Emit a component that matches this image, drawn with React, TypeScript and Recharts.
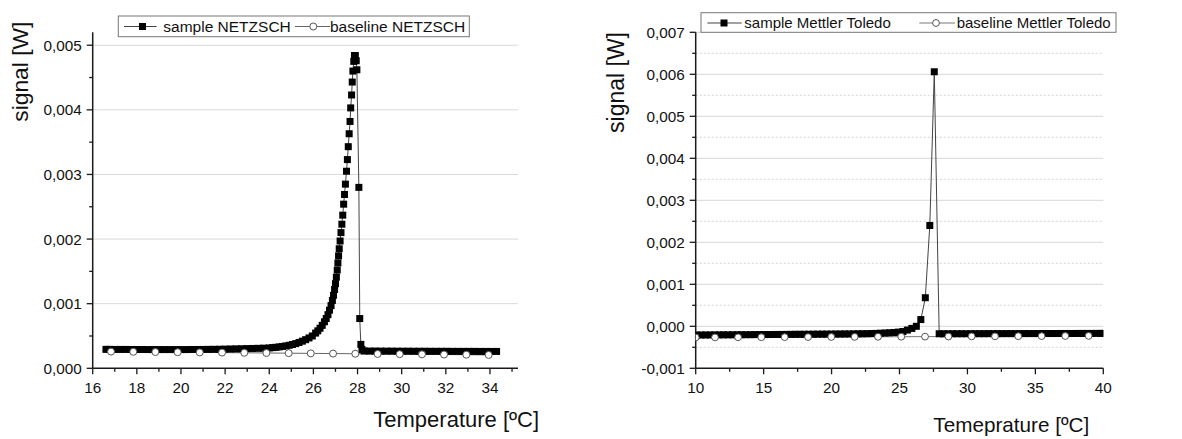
import React from 'react'
import { LineChart, Line, XAxis, YAxis, CartesianGrid } from 'recharts'

const FONT = '"Liberation Sans", Arial, Helvetica, sans-serif'

// ---- NETZSCH (left panel) ----
// [temperature ºC, signal W]
const netzschSampleStart: [number, number][] = [
  [16.6, 0.000293], [16.75, 0.000293], [17.0, 0.000292], [17.25, 0.000292], [17.5, 0.000292],
  [17.75, 0.000291], [18.0, 0.000291], [18.25, 0.000291], [18.5, 0.00029], [18.75, 0.00029],
  [19.0, 0.00029], [19.25, 0.00029], [19.5, 0.00029], [19.75, 0.00029], [20.0, 0.00029],
  [20.25, 0.00029], [20.5, 0.000291], [20.75, 0.000291], [21.0, 0.000292], [21.25, 0.000293],
  [21.5, 0.000294], [21.75, 0.000295], [22.0, 0.000297], [22.25, 0.000299], [22.5, 0.000301],
  [22.75, 0.000303], [23.0, 0.000305], [23.25, 0.000307], [23.5, 0.000309], [23.75, 0.000312],
  [24.0, 0.000315],
]

const netzschSamplePeak: [number, number][] = [
  [24.15, 0.00032], [24.3, 0.000325], [24.45, 0.000331], [24.6, 0.000338], [24.75, 0.000346],
  [24.9, 0.000356], [25.05, 0.000368], [25.2, 0.000382], [25.35, 0.0004], [25.5, 0.00042],
  [25.65, 0.000443], [25.8, 0.00047], [25.95, 0.0005], [26.1, 0.000545], [26.2, 0.00058],
  [26.3, 0.00062], [26.4, 0.000665], [26.5, 0.00072], [26.58, 0.00077], [26.66, 0.00083],
  [26.73, 0.0009], [26.8, 0.00097], [26.86, 0.00105], [26.91, 0.00113], [26.96, 0.00122],
  [27.0, 0.00131], [27.04, 0.00141], [27.08, 0.00152], [27.11, 0.00163], [27.14, 0.00174],
  [27.17, 0.00185], [27.21, 0.00197], [27.25, 0.0021], [27.29, 0.00223], [27.33, 0.00237],
  [27.37, 0.00254], [27.41, 0.00269], [27.45, 0.00285], [27.5, 0.00305], [27.54, 0.00323],
  [27.58, 0.00343], [27.62, 0.00363], [27.66, 0.00382], [27.69, 0.00403], [27.73, 0.00423],
  [27.76, 0.00443], [27.79, 0.0046], [27.83, 0.00475], [27.86, 0.00484], [27.9, 0.00484],
  [27.94, 0.00476], [27.97, 0.00462], [28.06, 0.0028], [28.1, 0.00077], [28.15, 0.00037],
  [28.2, 0.00029],
]

const netzschSampleEnd: [number, number][] = [
  [28.3, 0.000268], [28.55, 0.000267], [28.8, 0.000267], [29.05, 0.000266], [29.3, 0.000266],
  [29.55, 0.000266], [29.8, 0.000265], [30.05, 0.000265], [30.3, 0.000265], [30.55, 0.000264],
  [30.8, 0.000264], [31.05, 0.000264], [31.3, 0.000263], [31.55, 0.000263], [31.8, 0.000263],
  [32.05, 0.000263], [32.3, 0.000262], [32.55, 0.000262], [32.8, 0.000262], [33.05, 0.000262],
  [33.3, 0.000262], [33.55, 0.000261], [33.8, 0.000261], [34.05, 0.000261], [34.3, 0.000261],
]

const netzschBaseline: [number, number][] = [
  [16.83, 0.000258], [17.84, 0.000255], [18.84, 0.000252], [19.85, 0.000249], [20.85, 0.000246],
  [21.86, 0.000243], [22.87, 0.00024], [23.87, 0.000237], [24.88, 0.000234], [25.88, 0.000231],
  [26.89, 0.000228], [27.9, 0.000225], [28.91, 0.000222], [29.91, 0.000219], [30.92, 0.000216],
  [31.92, 0.000213], [32.93, 0.00021], [33.94, 0.000207],
]

const netzschXMajor = [16, 18, 20, 22, 24, 26, 28, 30, 32, 34]
const netzschXMinor = [17, 19, 21, 23, 25, 27, 29, 31, 33, 35]
const netzschYMajor = [0, 0.001, 0.002, 0.003, 0.004, 0.005]
const netzschYMinor = [0.0005, 0.0015, 0.0025, 0.0035, 0.0045]

// ---- Mettler Toledo (right panel) ----
const mettlerSampleStart: [number, number][] = [
  [10.07, -0.000208], [10.4, -0.000207], [10.73, -0.000206], [11.06, -0.000206], [11.39, -0.000205],
  [11.72, -0.000204], [12.05, -0.000203], [12.38, -0.000203], [12.71, -0.000202], [13.04, -0.000201],
  [13.37, -0.0002], [13.7, -0.0002], [14.03, -0.000199], [14.36, -0.000198], [14.69, -0.000197],
  [15.02, -0.000197], [15.35, -0.000196], [15.68, -0.000195], [16.01, -0.000194], [16.34, -0.000194],
  [16.67, -0.000193], [17.0, -0.000192], [17.33, -0.000191], [17.66, -0.00019], [17.99, -0.00019],
  [18.32, -0.000189], [18.65, -0.000188], [18.98, -0.000187], [19.31, -0.000186], [19.64, -0.000186],
  [19.97, -0.000185], [20.3, -0.000184], [20.63, -0.000183], [20.96, -0.000182], [21.29, -0.000181],
  [21.62, -0.00018], [21.95, -0.000178], [22.28, -0.000177], [22.61, -0.000175], [22.94, -0.000172],
  [23.27, -0.000169], [23.6, -0.000165], [23.93, -0.00016], [24.26, -0.000154], [24.59, -0.000147],
  [24.92, -0.000138], [25.25, -0.000125], [25.58, -0.00009],
]

const mettlerSamplePeak: [number, number][] = [
  [25.91, -0.00005], [26.24, 0.0], [26.57, 0.00016], [26.9, 0.00068], [27.23, 0.0024],
  [27.56, 0.00606], [27.92, -0.000178],
]

const mettlerSampleEnd: [number, number][] = [
  [28.25, -0.000178], [28.58, -0.000178], [28.91, -0.000177], [29.24, -0.000177], [29.57, -0.000177],
  [29.9, -0.000177], [30.23, -0.000176], [30.56, -0.000176], [30.89, -0.000176], [31.22, -0.000176],
  [31.55, -0.000175], [31.88, -0.000175], [32.21, -0.000175], [32.54, -0.000175], [32.87, -0.000174],
  [33.2, -0.000174], [33.53, -0.000174], [33.86, -0.000174], [34.19, -0.000173], [34.52, -0.000173],
  [34.85, -0.000173], [35.18, -0.000173], [35.51, -0.000172], [35.84, -0.000172], [36.17, -0.000172],
  [36.5, -0.000172], [36.83, -0.000171], [37.16, -0.000171], [37.49, -0.000171], [37.82, -0.000171],
  [38.15, -0.00017], [38.48, -0.00017], [38.81, -0.00017], [39.14, -0.00017], [39.47, -0.000169],
  [39.8, -0.000169], [40.0, -0.000169],
]

const mettlerBaseline: [number, number][] = [
  [10.0, -0.000265], [11.42, -0.000264], [13.12, -0.000262], [14.83, -0.00026], [16.55, -0.000258],
  [18.27, -0.000256], [19.98, -0.000254], [21.7, -0.000252], [23.42, -0.00025], [25.13, -0.000248],
  [26.88, -0.000246], [28.6, -0.000244], [30.31, -0.000241], [32.03, -0.000239], [33.74, -0.000236],
  [35.46, -0.000234], [37.2, -0.000231], [38.92, -0.000229],
]

const mettlerXMajor = [10, 15, 20, 25, 30, 35, 40]
const mettlerXMinor = [12.5, 17.5, 22.5, 27.5, 32.5, 37.5]
const mettlerYMajor = [-0.001, 0, 0.001, 0.002, 0.003, 0.004, 0.005, 0.006, 0.007]
const mettlerYMinor = [-0.0005, 0.0005, 0.0015, 0.0025, 0.0035, 0.0045, 0.0055, 0.0065]
const mettlerGridMajor = [0, 0.001, 0.002, 0.003, 0.004, 0.005, 0.006, 0.007]

const toPoints = (rows: [number, number][]) => rows.map(([t, w]) => ({ t, w }))

const netzschSample = toPoints([...netzschSampleStart, ...netzschSamplePeak, ...netzschSampleEnd])
const netzschBase = toPoints(netzschBaseline)
const mettlerSample = toPoints([...mettlerSampleStart, ...mettlerSamplePeak, ...mettlerSampleEnd])
const mettlerBase = toPoints(mettlerBaseline)

const AXIS = '#1a1a1a'
const fmtY = (v: number) => v.toFixed(3).replace('.', ',')

function makeYTick(majors: number[]) {
  return (p: any) => {
    const { x, y, payload } = p
    const major = majors.includes(payload.value)
    return (
      <g key={`yt-${payload.value}`}>
        <line x1={x} x2={x - (major ? 6 : 3.5)} y1={y} y2={y} stroke={AXIS} strokeWidth={1.3} />
        {major && (
          <text x={x - 11} y={y + 5.5} textAnchor="end" fontSize={15.3} fontFamily={FONT} fill="#111">
            {fmtY(payload.value)}
          </text>
        )}
      </g>
    )
  }
}

function makeXTick(majors: number[]) {
  return (p: any) => {
    const { x, y, payload } = p
    const major = majors.includes(payload.value)
    return (
      <g key={`xt-${payload.value}`}>
        <line x1={x} x2={x} y1={y} y2={y + (major ? 6 : 3.5)} stroke={AXIS} strokeWidth={1.3} />
        {major && (
          <text x={x} y={y + 25} textAnchor="middle" fontSize={15.3} fontFamily={FONT} fill="#111">
            {payload.value}
          </text>
        )}
      </g>
    )
  }
}

const squareDot = (size: number) => (p: any) => (
  <rect
    key={`sq-${p.index}`}
    x={p.cx - size / 2}
    y={p.cy - size / 2}
    width={size}
    height={size}
    fill="#000"
    stroke="none"
  />
)

const circleDot = (r: number) => (p: any) => (
  <circle key={`ci-${p.index}`} cx={p.cx} cy={p.cy} r={r} fill="#fff" stroke="#555" strokeWidth={1} />
)

export default function App() {
  return (
    <div style={{ position: 'absolute', left: 0, top: 0, width: 1182, height: 439, background: '#fff' }}>
      {/* left panel: NETZSCH */}
      <div style={{ position: 'absolute', left: 0, top: 0 }}>
        <LineChart width={560} height={439} margin={{ top: 32.3, right: 42, left: 0, bottom: 0 }}>
          <CartesianGrid vertical={false} horizontalValues={netzschYMajor.slice(1)} stroke="#d9d9d9" />
          <XAxis
            type="number"
            dataKey="t"
            domain={[16, 35.27]}
            allowDataOverflow
            ticks={[...netzschXMajor, ...netzschXMinor]}
            interval={0}
            tickSize={0}
            tickMargin={0}
            tickLine={false}
            tick={makeXTick(netzschXMajor)}
            axisLine={{ stroke: AXIS, strokeWidth: 1.5 }}
            height={70.7}
          />
          <YAxis
            type="number"
            domain={[0, 0.0052]}
            allowDataOverflow
            ticks={[...netzschYMajor, ...netzschYMinor]}
            interval={0}
            tickSize={0}
            tickMargin={0}
            tickLine={false}
            tick={makeYTick(netzschYMajor)}
            axisLine={{ stroke: AXIS, strokeWidth: 1.5 }}
            width={92.7}
          />
          <Line
            data={netzschSample}
            dataKey="w"
            type="linear"
            stroke="#444"
            strokeWidth={1}
            dot={squareDot(7)}
            activeDot={false}
            isAnimationActive={false}
          />
          <Line
            data={netzschBase}
            dataKey="w"
            type="linear"
            stroke="#666"
            strokeWidth={1}
            dot={circleDot(3.5)}
            activeDot={false}
            isAnimationActive={false}
          />
        </LineChart>
      </div>

      {/* right panel: Mettler Toledo */}
      <div style={{ position: 'absolute', left: 600, top: 0 }}>
        <LineChart width={582} height={439} margin={{ top: 32.3, right: 78.7, left: 0, bottom: 0 }}>
          <CartesianGrid vertical={false} horizontalValues={mettlerGridMajor} stroke="#d6d6d6" />
          <CartesianGrid vertical={false} horizontalValues={mettlerYMinor} stroke="#d2d2d2" strokeDasharray="2 2" />
          <XAxis
            type="number"
            dataKey="t"
            domain={[10, 40]}
            allowDataOverflow
            ticks={[...mettlerXMajor, ...mettlerXMinor]}
            interval={0}
            tickSize={0}
            tickMargin={0}
            tickLine={false}
            tick={makeXTick(mettlerXMajor)}
            axisLine={{ stroke: AXIS, strokeWidth: 1.5 }}
            height={70.7}
          />
          <YAxis
            type="number"
            domain={[-0.001, 0.007]}
            allowDataOverflow
            ticks={[...mettlerYMajor, ...mettlerYMinor]}
            interval={0}
            tickSize={0}
            tickMargin={0}
            tickLine={false}
            tick={makeYTick(mettlerYMajor)}
            axisLine={{ stroke: AXIS, strokeWidth: 1.5 }}
            width={95.7}
          />
          <Line
            data={mettlerSample}
            dataKey="w"
            type="linear"
            stroke="#444"
            strokeWidth={1}
            dot={squareDot(7)}
            activeDot={false}
            isAnimationActive={false}
          />
          <Line
            data={mettlerBase}
            dataKey="w"
            type="linear"
            stroke="#777"
            strokeWidth={1}
            dot={circleDot(3.4)}
            activeDot={false}
            isAnimationActive={false}
          />
        </LineChart>
      </div>

      {/* titles and legends */}
      <svg
        width={1182}
        height={439}
        style={{ position: 'absolute', left: 0, top: 0, pointerEvents: 'none' }}
        fontFamily={FONT}
      >
        <text transform="translate(20,71.7) rotate(-90)" x={0} y={8} textAnchor="middle" fontSize={22.8} fill="#111">
          signal [W]
        </text>
        <text transform="translate(615.8,82.5) rotate(-90)" x={0} y={8} textAnchor="middle" fontSize={23} fill="#111">
          signal [W]
        </text>
        <text x={373.3} y={426.7} fontSize={22} fill="#111">
          Temperature [ºC]
        </text>
        <text x={933.3} y={431.5} fontSize={20.7} fill="#111">
          Temeprature [ºC]
        </text>

        {/* left legend */}
        <rect x={118.3} y={16} width={351} height={20.7} fill="#fff" stroke="#777" strokeWidth={1} />
        <line x1={124} x2={156.7} y1={26.5} y2={26.5} stroke="#444" />
        <rect x={139} y={23} width={7} height={7} fill="#000" />
        <text x={163.3} y={31.5} fontSize={15.5} fill="#111">
          sample NETZSCH
        </text>
        <line x1={295} x2={330} y1={26.5} y2={26.5} stroke="#666" />
        <circle cx={313.3} cy={26.5} r={3.5} fill="#fff" stroke="#555" />
        <text x={330} y={31.5} fontSize={15.5} fill="#111">
          baseline NETZSCH
        </text>

        {/* right legend */}
        <rect x={701} y={12.7} width={415} height={19.6} fill="#fff" stroke="#777" strokeWidth={1} />
        <line x1={707.3} x2={741.7} y1={23} y2={23} stroke="#444" />
        <rect x={720.5} y={19.5} width={7} height={7} fill="#000" />
        <text x={744.3} y={28} fontSize={15} fill="#111">
          sample Mettler Toledo
        </text>
        <line x1={919.3} x2={955} y1={23} y2={23} stroke="#777" />
        <circle cx={936} cy={23} r={3.4} fill="#fff" stroke="#555" />
        <text x={956.7} y={28} fontSize={15} fill="#111">
          baseline Mettler Toledo
        </text>
      </svg>
    </div>
  )
}
